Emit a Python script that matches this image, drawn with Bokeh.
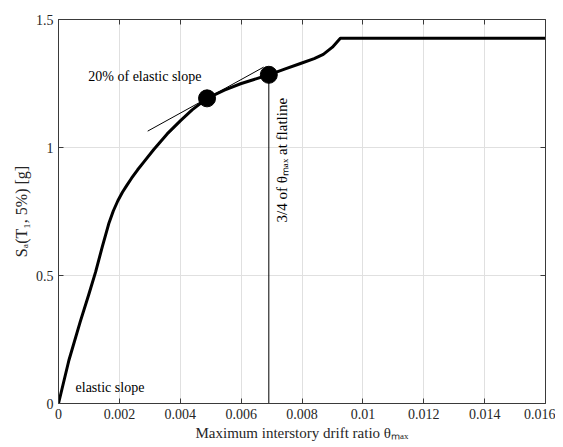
from bokeh.plotting import figure
from bokeh.models import LinearAxis, FixedTicker, Range1d, Label
from bokeh.embed import file_html
from bokeh.resources import INLINE

# curve: Sa vs max interstory drift ratio
theta = [0, 0.00034, 0.00072, 0.00100, 0.00122, 0.00144, 0.00165, 0.00180, 0.00195,
         0.00210, 0.00225, 0.00240, 0.00260, 0.00280, 0.00313, 0.00357, 0.00401,
         0.00439, 0.00488, 0.00545, 0.00598, 0.00691, 0.00745, 0.00795, 0.00840,
         0.00870, 0.00900, 0.00926, 0.016]
sa = [0, 0.168, 0.322, 0.428, 0.514, 0.613, 0.702, 0.752, 0.792,
      0.825, 0.853, 0.880, 0.913, 0.943, 0.992, 1.053, 1.105,
      1.147, 1.192, 1.224, 1.249, 1.284, 1.307, 1.328, 1.347,
      1.364, 1.392, 1.427, 1.427]

# marked points
mark_theta = [0.00488, 0.00691]
mark_sa = [1.192, 1.284]

# 20% of elastic slope tangent line
tan_theta = [0.00293, 0.00674]
tan_sa = [1.064, 1.314]

# vertical line at 3/4 of theta_max
vline_theta = [0.00691, 0.00691]
vline_sa = [0, 1.284]

x_ticks = [0, 0.002, 0.004, 0.006, 0.008, 0.01, 0.012, 0.014, 0.016]
x_tick_labels = ["0", "0.002", "0.004", "0.006", "0.008", "0.01", "0.012", "0.014", "0.016"]
y_ticks = [0, 0.5, 1, 1.5]
y_tick_labels = ["0", "0.5", "1", "1.5"]

FONT = "Liberation Serif"
AX = "#3a3a3a"
TXT = "#262626"

p = figure(frame_width=487, frame_height=384, output_backend="svg", toolbar_location=None,
           x_range=Range1d(0, 0.016), y_range=Range1d(0, 1.5),
           min_border_left=58, min_border_right=10, min_border_top=19, min_border_bottom=40)
p.outline_line_color = None
p.background_fill_color = "white"
p.border_fill_color = "white"

def style_axis(ax, ticks, labels, show_labels):
    ax.ticker = FixedTicker(ticks=ticks)
    ax.major_label_overrides = {t: (l if show_labels else "") for t, l in zip(ticks, labels)}
    ax.axis_line_color = AX
    ax.major_tick_line_color = AX
    ax.major_tick_in = 5
    ax.major_tick_out = 0
    ax.minor_tick_line_color = None
    ax.major_label_text_font = FONT
    ax.major_label_text_color = TXT
    ax.major_label_text_font_size = "14px" if show_labels else "2px"
    ax.major_label_standoff = 5 if show_labels else 0

style_axis(p.xaxis[0], x_ticks, x_tick_labels, True)
style_axis(p.yaxis[0], y_ticks, y_tick_labels, True)
p.xaxis[0].axis_label = "Maximum interstory drift ratio θₘₐₓ"
p.yaxis[0].axis_label = "Sₐ(T₁, 5%) [g]"
for ax in (p.xaxis[0], p.yaxis[0]):
    ax.axis_label_text_font = FONT
    ax.axis_label_text_font_style = "normal"
    ax.axis_label_text_font_size = "15px"
    ax.axis_label_text_color = TXT
    ax.axis_label_standoff = 3
p.yaxis[0].axis_label_text_font_size = "16px"

top = LinearAxis()
style_axis(top, x_ticks, x_tick_labels, False)
p.add_layout(top, "above")
right = LinearAxis()
style_axis(right, y_ticks, y_tick_labels, False)
p.add_layout(right, "right")

p.xgrid.ticker = FixedTicker(ticks=x_ticks)
p.ygrid.ticker = FixedTicker(ticks=y_ticks)
p.grid.grid_line_color = "#e0e0e0"
p.grid.grid_line_width = 1

p.line(theta, sa, line_color="black", line_width=3, line_join="round")
p.line(tan_theta, tan_sa, line_color="black", line_width=1)
p.line(vline_theta, vline_sa, line_color="black", line_width=1)
p.scatter(mark_theta, mark_sa, size=17, fill_color="black", line_color="black")

p.add_layout(Label(x=0.00098, y=1.277, text="20% of elastic slope", text_font=FONT,
                   text_font_size="14px", text_color="black", text_baseline="middle"))
p.add_layout(Label(x=0.00056, y=0.0625, text="elastic slope", text_font=FONT,
                   text_font_size="14px", text_color="black", text_baseline="middle"))
p.add_layout(Label(x=0.00733, y=0.707, text="3/4 of θₘₐₓ at flatline", text_font=FONT,
                   text_font_size="15px", text_color="black", text_baseline="middle",
                   text_align="left", angle=90, angle_units="deg"))

open("out.html", "w").write(file_html(p, INLINE))
